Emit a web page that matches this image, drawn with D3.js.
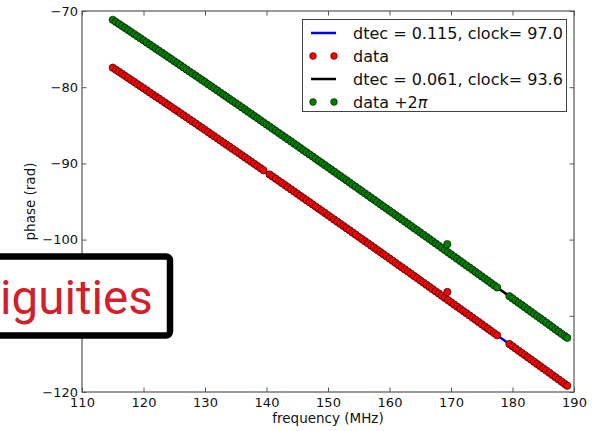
<!DOCTYPE html>
<html>
<head>
<meta charset="utf-8">
<script src="https://cdn.jsdelivr.net/npm/d3@7/dist/d3.min.js"></script>
<style>
  html, body { margin: 0; padding: 0; background: #fff; }
  svg { display: block; }
  text { font-family: "DejaVu Sans", sans-serif; }
</style>
</head>
<body>
<svg id="chart" width="598" height="431"></svg>
<script>
// ---------- data ----------
const freq = [
  115,115.5,116,116.5,117,117.5,118,118.5,119,119.5,
  120,120.5,121,121.5,122,122.5,123,123.5,124,124.5,
  125,125.5,126,126.5,127,127.5,128,128.5,129,129.5,
  130,130.5,131,131.5,132,132.5,133,133.5,134,134.5,
  135,135.5,136,136.5,137,137.5,138,138.5,139,139.5,
  140,140.5,141,141.5,142,142.5,143,143.5,144,144.5,
  145,145.5,146,146.5,147,147.5,148,148.5,149,149.5,
  150,150.5,151,151.5,152,152.5,153,153.5,154,154.5,
  155,155.5,156,156.5,157,157.5,158,158.5,159,159.5,
  160,160.5,161,161.5,162,162.5,163,163.5,164,164.5,
  165,165.5,166,166.5,167,167.5,168,168.5,169,169.5,
  170,170.5,171,171.5,172,172.5,173,173.5,174,174.5,
  175,175.5,176,176.5,177,177.5,178,178.5,179,179.5,
  180,180.5,181,181.5,182,182.5,183,183.5,184,184.5,
  185,185.5,186,186.5,187,187.5,188,188.5,188.9
];
const dataRed = [
  -77.44,-77.71,-77.97,-78.24,-78.51,-78.78,-79.05,-79.32,-79.59,-79.86,
  -80.13,-80.40,-80.68,-80.95,-81.22,-81.49,-81.76,-82.04,-82.31,-82.58,
  -82.86,-83.13,-83.40,-83.68,-83.95,-84.23,-84.50,-84.78,-85.05,-85.33,
  -85.60,-85.88,-86.16,-86.43,-86.71,-86.99,-87.27,-87.54,-87.82,-88.10,
  -88.37,-88.65,-88.93,-89.21,-89.49,-89.77,-90.05,-90.33,-90.61,-90.89,
  null,-91.45,-91.73,-92.01,-92.29,-92.57,-92.85,-93.13,-93.41,-93.69,
  -93.97,-94.26,-94.54,-94.82,-95.10,-95.38,-95.67,-95.95,-96.23,-96.51,
  -96.80,-97.08,-97.36,-97.65,-97.93,-98.21,-98.50,-98.78,-99.07,-99.35,
  -99.64,-99.92,-100.21,-100.49,-100.78,-101.06,-101.35,-101.63,-101.92,-102.20,
  -102.49,-102.77,-103.06,-103.35,-103.63,-103.92,-104.20,-104.49,-104.78,-105.06,
  -105.35,-105.64,-105.92,-106.21,-106.50,-106.79,-107.07,-107.36,-107.65,-107.94,
  -108.23,-108.51,-108.80,-109.09,-109.38,-109.67,-109.95,-110.24,-110.53,-110.82,
  -111.11,-111.40,-111.69,-111.98,-112.27,-112.55,null,null,null,-113.71,
  -114.00,-114.29,-114.58,-114.87,-115.16,-115.45,-115.74,-116.03,-116.32,-116.61,
  -116.90,-117.19,-117.48,-117.78,-118.07,-118.36,-118.65,-118.94,-119.17
];
const dataGreen = [
  -71.16,-71.43,-71.69,-71.96,-72.23,-72.50,-72.77,-73.04,-73.31,-73.58,
  -73.85,-74.12,-74.40,-74.67,-74.94,-75.21,-75.48,-75.76,-76.03,-76.30,
  -76.58,-76.85,-77.12,-77.40,-77.67,-77.95,-78.22,-78.50,-78.77,-79.05,
  -79.32,-79.60,-79.88,-80.15,-80.43,-80.71,-80.99,-81.26,-81.54,-81.82,
  -82.09,-82.37,-82.65,-82.93,-83.21,-83.49,-83.77,-84.05,-84.33,-84.61,
  -84.89,-85.17,-85.45,-85.73,-86.01,-86.29,-86.57,-86.85,-87.13,-87.41,
  -87.69,-87.98,-88.26,-88.54,-88.82,-89.10,-89.39,-89.67,-89.95,-90.23,
  -90.52,-90.80,-91.08,-91.37,-91.65,-91.93,-92.22,-92.50,-92.79,-93.07,
  -93.36,-93.64,-93.93,-94.21,-94.50,-94.78,-95.07,-95.35,-95.64,-95.92,
  -96.21,-96.49,-96.78,-97.07,-97.35,-97.64,-97.92,-98.21,-98.50,-98.78,
  -99.07,-99.36,-99.64,-99.93,-100.22,-100.51,-100.79,-101.08,-101.37,-101.66,
  -101.95,-102.23,-102.52,-102.81,-103.10,-103.39,-103.67,-103.96,-104.25,-104.54,
  -104.83,-105.12,-105.41,-105.70,-105.99,-106.27,null,null,null,-107.43,
  -107.72,-108.01,-108.30,-108.59,-108.88,-109.17,-109.46,-109.75,-110.04,-110.33,
  -110.62,-110.91,-111.20,-111.50,-111.79,-112.08,-112.37,-112.66,-112.89
];
// isolated outliers
const outlierFreq = [169.4];
const outlierRed = [-106.88];
const outlierGreen = [-100.60];

// fitted models
const fitFreq = [115,120,125,130,135,140,145,150,155,160,165,170,175,180,185,188.9];
const fitBlue = [-77.44,-80.13,-82.86,-85.60,-88.37,-91.17,-93.97,-96.80,-99.64,-102.49,-105.35,-108.23,-111.11,-114.00,-116.90,-119.17];
const fitBlack = [-71.16,-73.85,-76.58,-79.32,-82.09,-84.89,-87.69,-90.52,-93.36,-96.21,-99.07,-101.95,-104.83,-107.72,-110.62,-112.89];

const xTicks = [110,120,130,140,150,160,170,180,190];
const yTicks = [-120,-110,-100,-90,-80,-70];
const yTickHidden = [-110]; // label covered by the overlay box in the reference
const legendLabels = ["dtec = 0.115, clock= 97.0", "data", "dtec = 0.061, clock= 93.6", "data +2"];
const overlayText = "iguities";

// ---------- layout ----------
const svg = d3.select("#chart");
const L = 82, R = 574, T = 11, B = 392;
const x = d3.scaleLinear().domain([110, 190]).range([L, R]);
const y = d3.scaleLinear().domain([-120, -70]).range([B, T]);

const spineColor = "#555";
const tickLen = 4.5;
const mr = 3.7;

// ---------- series ----------
const line = d3.line().x(d => x(d[0])).y(d => y(d[1]));
const blueData = fitFreq.map((f, i) => [f, fitBlue[i]]);
const blackData = fitFreq.map((f, i) => [f, fitBlack[i]]);
const redPts = freq.map((f, i) => [f, dataRed[i]]).filter(d => d[1] !== null)
  .concat(outlierFreq.map((f, i) => [f, outlierRed[i]]));
const greenPts = freq.map((f, i) => [f, dataGreen[i]]).filter(d => d[1] !== null)
  .concat(outlierFreq.map((f, i) => [f, outlierGreen[i]]));

const plot = svg.append("g");
plot.append("path").datum(blueData).attr("d", line)
  .attr("fill", "none").attr("stroke", "#0000ff").attr("stroke-width", 2.5);
plot.append("g").selectAll("circle").data(redPts).join("circle")
  .attr("cx", d => x(d[0])).attr("cy", d => y(d[1])).attr("r", mr)
  .attr("fill", "#ff0000").attr("stroke", "#000").attr("stroke-width", 0.6);
plot.append("path").datum(blackData).attr("d", line)
  .attr("fill", "none").attr("stroke", "#000").attr("stroke-width", 2.5);
plot.append("g").selectAll("circle").data(greenPts).join("circle")
  .attr("cx", d => x(d[0])).attr("cy", d => y(d[1])).attr("r", mr)
  .attr("fill", "#008000").attr("stroke", "#000").attr("stroke-width", 0.6);

// ---------- axes ----------
function styleAxis(g) {
  g.select(".domain").remove();
  g.selectAll(".tick line").attr("stroke", spineColor).attr("stroke-width", 1);
  g.selectAll(".tick text").attr("fill", "#111").style("font-size", "13px")
    .style("font-family", "'DejaVu Sans', sans-serif");
}
const fmt = d3.format("");
svg.append("g").attr("transform", `translate(0,${B})`)
  .call(d3.axisBottom(x).tickValues(xTicks).tickSizeInner(-tickLen).tickSizeOuter(0).tickPadding(6))
  .call(styleAxis);
svg.append("g").attr("transform", `translate(0,${T})`)
  .call(d3.axisTop(x).tickValues(xTicks).tickSizeInner(-tickLen).tickSizeOuter(0).tickFormat(""))
  .call(styleAxis);
svg.append("g").attr("transform", `translate(${L},0)`)
  .call(d3.axisLeft(y).tickValues(yTicks).tickSizeInner(-tickLen).tickSizeOuter(0).tickPadding(4)
    .tickFormat(v => yTickHidden.includes(v) ? "" : fmt(v)))
  .call(styleAxis);
svg.append("g").attr("transform", `translate(${R},0)`)
  .call(d3.axisRight(y).tickValues(yTicks).tickSizeInner(-tickLen).tickSizeOuter(0).tickFormat(""))
  .call(styleAxis);

svg.append("rect").attr("x", L).attr("y", T).attr("width", R - L).attr("height", B - T)
  .attr("fill", "none").attr("stroke", spineColor).attr("stroke-width", 1.2);

svg.append("text").attr("x", (L + R) / 2).attr("y", 423).attr("text-anchor", "middle")
  .style("font-size", "13.5px").attr("fill", "#111").text("frequency (MHz)");
svg.append("text").attr("transform", `translate(35,${(T + B) / 2}) rotate(-90)`)
  .attr("text-anchor", "middle").style("font-size", "13.5px").attr("fill", "#111").text("phase (rad)");

// ---------- legend ----------
const lg = svg.append("g");
lg.append("rect").attr("x", 302.5).attr("y", 19.5).attr("width", 264).attr("height", 92)
  .attr("fill", "#fff").attr("stroke", "#444").attr("stroke-width", 1);
const rowY = [33, 56, 79, 102];
const kinds = [["line", "#0000ff"], ["dots", "#ff0000"], ["line", "#000"], ["dots", "#008000"]];
kinds.forEach((k, i) => {
  if (k[0] === "line") {
    lg.append("line").attr("x1", 311).attr("x2", 336).attr("y1", rowY[i]).attr("y2", rowY[i])
      .attr("stroke", k[1]).attr("stroke-width", 2.5);
  } else {
    [313, 334].forEach(cx => lg.append("circle").attr("cx", cx).attr("cy", rowY[i]).attr("r", 3.4)
      .attr("fill", k[1]).attr("stroke", "#000").attr("stroke-width", 0.5));
  }
  const t = lg.append("text").attr("x", 353).attr("y", rowY[i]).attr("dy", "0.36em")
    .style("font-size", "16px").attr("fill", "#111").text(legendLabels[i]);
  if (i === 3) t.append("tspan").style("font-style", "italic").text("π");
});

// ---------- overlay box ----------
const ov = svg.append("g");
ov.append("rect").attr("x", -20).attr("y", 256.5).attr("width", 190).attr("height", 79)
  .attr("rx", 4).attr("fill", "#fff").attr("stroke", "#000").attr("stroke-width", 6.5);
ov.append("text").attr("x", 0).attr("y", 313.5)
  .style("font-family", "Roboto, 'Liberation Sans', sans-serif").style("font-size", "47.5px")
  .attr("fill", "#d21f2b").text(overlayText);
</script>
</body>
</html>
